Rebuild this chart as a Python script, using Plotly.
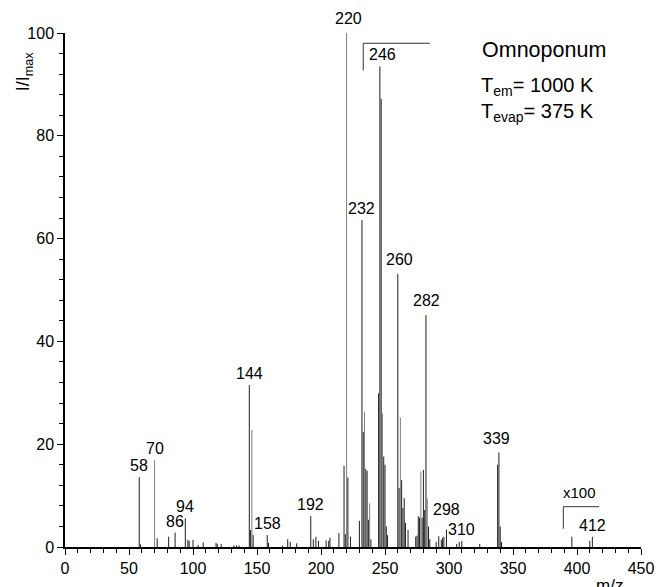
import plotly.graph_objects as go

# ---- data -----------------------------------------------------------
dark_mz = [58, 59, 72, 81, 86, 94, 96, 97, 100, 104, 108, 118, 119, 122, 132, 134, 136,
           144, 145, 147, 158, 159, 170, 174, 176, 181, 192, 194, 196, 198, 204, 206, 207,
           214, 218, 219, 221, 223, 230, 232, 233, 235, 236, 237, 239, 245, 246, 247, 249,
           250, 251, 252, 260, 261, 263, 264, 265, 266, 268, 274, 275, 276, 277, 279, 280,
           281, 282, 284, 285, 290, 292, 294, 295, 296, 298, 306, 308, 310, 324, 338, 339,
           340, 341, 396, 410, 412]
dark_int = [13.6, 0.5, 1.7, 2.0, 2.8, 5.6, 1.4, 1.2, 1.4, 0.4, 0.9, 0.8, 0.6, 0.6, 0.3, 0.3, 0.3,
            31.5, 3.3, 2.3, 2.3, 0.8, 0.3, 1.5, 1.0, 0.7, 6.0, 1.5, 2.0, 1.2, 1.3, 1.2, 1.8,
            2.7, 15.8, 2.5, 13.5, 2.0, 5.1, 63.6, 22.4, 15.2, 14.8, 5.3, 1.5, 29.9, 93.5, 87.2, 17.6,
            16.0, 4.0, 2.3, 53.1, 11.5, 13.0, 7.6, 9.5, 4.7, 3.3, 2.0, 2.2, 6.0, 5.7, 5.7, 15.0,
            7.2, 45.1, 4.0, 1.5, 1.0, 2.1, 1.4, 1.8, 2.0, 3.4, 0.6, 1.0, 1.2, 0.6, 16.0, 18.4,
            4.0, 1.0, 2.0, 1.2, 2.0]

gray_mz = [70, 146, 220, 234, 238, 248, 262, 278, 283]
gray_int = [16.9, 22.8, 100.0, 26.3, 8.5, 26.0, 25.2, 14.7, 9.5]

labels = [58, 70, 86, 94, 144, 158, 192, 220, 232, 246, 260, 282, 298, 310, 339, 412]

x_ticks = [0, 50, 100, 150, 200, 250, 300, 350, 400, 450]
y_ticks = [0, 20, 40, 60, 80, 100]

# ---- helpers --------------------------------------------------------
def stems(mz, inten):
    xs, ys = [], []
    for m, v in zip(mz, inten):
        xs += [m, m, None]
        ys += [0, v, None]
    return xs, ys

FONT = "Arial, Liberation Sans, sans-serif"

fig = go.Figure()
gx, gy = stems(gray_mz, gray_int)
fig.add_trace(go.Scatter(x=gx, y=gy, mode="lines", line=dict(color="#7d7d7d", width=1),
                         hoverinfo="skip", showlegend=False))
dx, dy = stems(dark_mz, dark_int)
fig.add_trace(go.Scatter(x=dx, y=dy, mode="lines", line=dict(color="#1e1e1e", width=1),
                         hoverinfo="skip", showlegend=False))

all_int = dict(zip(dark_mz, dark_int))
all_int.update(dict(zip(gray_mz, gray_int)))

label_shift = {298: (0, 9), 246: (3, 0), 220: (2, 3), 260: (2, 3), 282: (1, 3), 339: (-2, 2)}
for m in labels:
    xs, ys = label_shift.get(m, (0, 0))
    fig.add_annotation(x=m, y=all_int[m], text=str(m), showarrow=False,
                       xanchor="center", yanchor="bottom", xshift=xs, yshift=1 + ys,
                       font=dict(family=FONT, size=16, color="black"))

# magnification brackets
for (x0, x1, ytop, ybot, txt, tx, ty) in [(233, 285, 98.0, 92.7, "x10", 267, 100.5),
                                          (389.3, 417.2, 7.84, 3.56, "x100", 402, 10.6)]:
    fig.add_shape(type="line", x0=x0, x1=x0, y0=ybot, y1=ytop, xref="x", yref="y",
                  line=dict(color="#333", width=1))
    fig.add_shape(type="line", x0=x0, x1=x1, y0=ytop, y1=ytop, xref="x", yref="y",
                  line=dict(color="#333", width=1))
    fig.add_annotation(x=tx, y=ty, text=txt, showarrow=False, xanchor="center", yanchor="middle",
                       font=dict(family=FONT, size=15, color="black"))

# side texts
fig.add_annotation(xref="paper", yref="paper", x=0.8316, y=0.967, text="Omnoponum",
                   showarrow=False, xanchor="center", yanchor="middle",
                   font=dict(family=FONT, size=21.5, color="black"))
fig.add_annotation(xref="paper", yref="paper", x=0.719, y=0.925,
                   text="T<sub>em</sub>= 1000 K", showarrow=False, xanchor="left", yanchor="top",
                   font=dict(family=FONT, size=20, color="black"))
fig.add_annotation(xref="paper", yref="paper", x=0.719, y=0.874,
                   text="T<sub>evap</sub>= 375 K", showarrow=False, xanchor="left", yanchor="top",
                   font=dict(family=FONT, size=20, color="black"))

# axis titles
fig.add_annotation(xref="paper", yref="paper", x=-0.07, y=0.925, text="I/I<sub>max</sub>",
                   textangle=-90, showarrow=False, xanchor="center", yanchor="middle",
                   font=dict(family=FONT, size=18, color="black"))
fig.add_annotation(xref="paper", yref="paper", x=0.946, y=-0.052, text="m/z",
                   showarrow=False, xanchor="center", yanchor="top",
                   font=dict(family=FONT, size=17, color="black"))

axis_common = dict(showgrid=False, zeroline=False, showline=True, linecolor="black",
                   linewidth=1.5, ticks="outside", tickcolor="black", tickwidth=1.2,
                   ticklen=6, automargin=False,
                   tickfont=dict(family=FONT, size=16, color="black"))

fig.update_layout(
    width=656, height=587,
    margin=dict(l=65, r=15, t=33, b=40, autoexpand=False),
    paper_bgcolor="white", plot_bgcolor="white",
    xaxis=dict(range=[0, 450], tickvals=x_ticks,
               minor=dict(dtick=10, ticks="outside", ticklen=4, tickcolor="black", tickwidth=1),
               **axis_common),
    yaxis=dict(range=[0, 100], tickvals=y_ticks,
               minor=dict(dtick=4, ticks="outside", ticklen=4, tickcolor="black", tickwidth=1),
               **axis_common),
)

fig.write_html("out.html")
